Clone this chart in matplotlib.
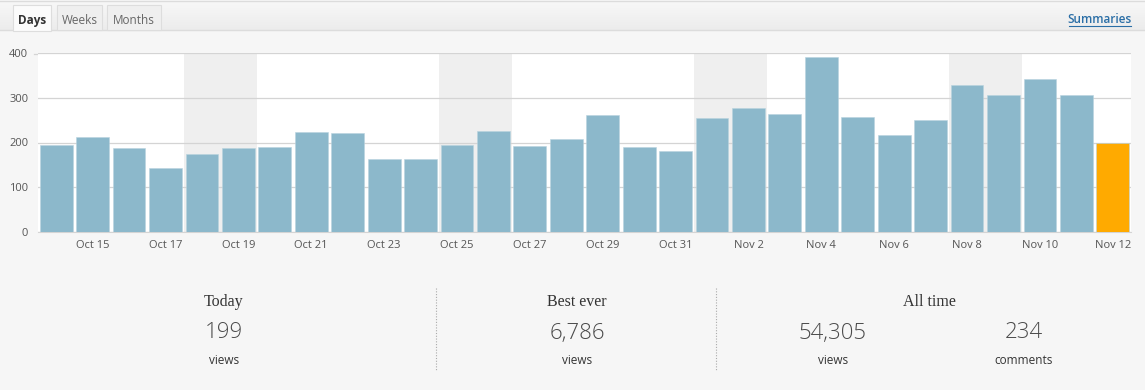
import numpy as np
import matplotlib.pyplot as plt
from matplotlib.patches import Rectangle

# daily views, Oct 14 .. Nov 12
days = ['Oct 14', 'Oct 15', 'Oct 16', 'Oct 17', 'Oct 18', 'Oct 19', 'Oct 20',
        'Oct 21', 'Oct 22', 'Oct 23', 'Oct 24', 'Oct 25', 'Oct 26', 'Oct 27',
        'Oct 28', 'Oct 29', 'Oct 30', 'Oct 31', 'Nov 1', 'Nov 2', 'Nov 3',
        'Nov 4', 'Nov 5', 'Nov 6', 'Nov 7', 'Nov 8', 'Nov 9', 'Nov 10',
        'Nov 11', 'Nov 12']
views = [195, 213, 187, 144, 175, 187, 191, 223, 222, 163, 163, 194, 226, 192,
         207, 261, 191, 180, 255, 278, 264, 392, 258, 217, 251, 329, 306, 342,
         307, 199]
weekends = [(4, 5), (11, 12), (18, 19), (25, 26)]
yticks = [0, 100, 200, 300, 400]

tabs = ['Days', 'Weeks', 'Months']
stat_heads = ['Today', 'Best ever', 'All time']
stat_values = ['199', '6,786', '54,305', '234']
stat_units = ['views', 'views', 'views', 'comments']

W, H = 1145, 390
fig = plt.figure(figsize=(W / 100, H / 100), dpi=100)
fig.patch.set_facecolor('#f6f6f6')

# background layer in pixel coordinates
bg = fig.add_axes([0, 0, 1, 1])
bg.set_xlim(0, W)
bg.set_ylim(H, 0)
bg.axis('off')

grad = np.linspace(0, 1, 30).reshape(-1, 1)
bg.imshow(grad, extent=[0, W, 30, 0], cmap=plt.matplotlib.colors.LinearSegmentedColormap.from_list(
    'g', ['#f8f8f8', '#ececec']), aspect='auto', zorder=0)
bg.plot([0, W], [30, 30], color='#dcdcdc', lw=1)
bg.plot([0, W], [0.5, 0.5], color='#dcdcdc', lw=1)

tab_boxes = [(13, 51), (57, 102), (107, 161)]
for i, (name, (x0, x1)) in enumerate(zip(tabs, tab_boxes)):
    active = i == 0
    bg.add_patch(Rectangle((x0, 5), x1 - x0, 25.5 if active else 25,
                           facecolor='#fbfbfb' if active else '#efefef',
                           edgecolor='#dddddd', lw=0.8, zorder=2))
    bg.text((x0 + x1) / 2, 20.5, name, ha='center', va='center', fontsize=8.5,
            family='Open Sans', fontweight='bold' if active else 'normal',
            color='#333333' if active else '#666666', zorder=3)

bg.text(1100, 19.5, 'Summaries', ha='center', va='center', fontsize=8.5,
        family='Open Sans', fontweight='semibold', color='#2a6ea6')
bg.plot([1069, 1131], [25.5, 25.5], color='#2a6ea6', lw=0.8)

# stats row
head_x = [224, 577, 929]
for x, t in zip(head_x, stat_heads):
    bg.text(x, 302, t, ha='center', va='center', fontsize=11.5,
            family='Liberation Serif', color='#333333')
val_x = [224, 577, 833, 1024]
for x, v, u in zip(val_x, stat_values, stat_units):
    bg.text(x, 333, v, ha='center', va='center', fontsize=16,
            family='Open Sans', fontweight='light', color='#4a4a4a')
    bg.text(x, 360, u, ha='center', va='center', fontsize=8.5,
            family='Open Sans', color='#333333')
for x in [436, 716]:
    bg.plot([x, x], [288, 371], color='#aaaaaa', lw=0.8, ls=(0, (1, 1.5)))

# bar chart
ax = fig.add_axes([38 / W, (H - 232) / H, (1131 - 38) / W, (232 - 53) / H])
ax.set_facecolor('white')
x = np.arange(len(days))
for a, b in weekends:
    ax.axvspan(a - 0.5, b + 0.5, color='#efefef', zorder=0, lw=0)
colors = ['#8cb8cb'] * (len(views) - 1) + ['#ffaa00']
ax.bar(x, views, width=0.9, color=colors, edgecolor='#b9d3df', lw=0.4, zorder=3)
ax.set_xlim(-0.5, len(days) - 0.5)
ax.set_ylim(0, 400)
ax.set_yticks(yticks)
ax.set_xticks(x[1::2])
ax.set_xticklabels(days[1::2])
ax.grid(axis='y', color='#d4d4d4', lw=0.9, zorder=1)
ax.set_axisbelow(True)
for s in ['top', 'right', 'left']:
    ax.spines[s].set_visible(False)
ax.spines['bottom'].set_color('#d4d4d4')
ax.tick_params(length=0, labelsize=8, labelcolor='#555555', pad=6)
ax.tick_params(axis='y', pad=7)
for lab in ax.get_xticklabels() + ax.get_yticklabels():
    lab.set_family('Open Sans')
# 400 gridline reaches a bit left of the axes
bg.plot([34, 38], [53.5, 53.5], color='#d4d4d4', lw=0.9)

fig.savefig('out.png', dpi=100, facecolor=fig.get_facecolor())
